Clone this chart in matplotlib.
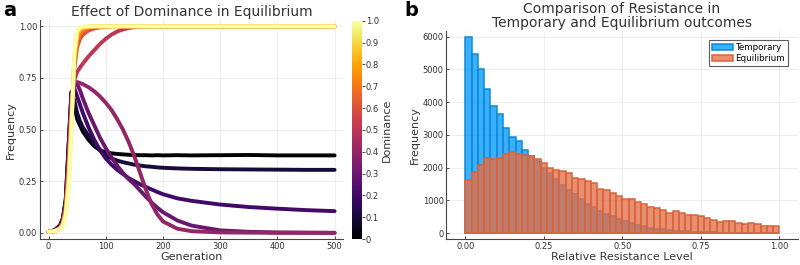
import numpy as np
import matplotlib
matplotlib.use("Agg")
import matplotlib.pyplot as plt
from matplotlib import cm, colors

# ---------------- Panel a data ----------------
generations = [0, 10, 20, 25, 30, 35, 40, 45, 50, 55, 60, 70, 80, 90, 100, 110, 120, 130,
               140, 150, 160, 170, 180, 190, 200, 225, 250, 300, 350, 400, 450, 500]
dominance = [0.0, 0.1, 0.2, 0.3, 0.4, 0.5, 0.6, 0.7, 0.8, 0.9, 1.0]

freq_d00 = [0.005, 0.012, 0.035, 0.07, 0.16, 0.42, 0.68, 0.62, 0.55, 0.52, 0.49, 0.45, 0.42, 0.40, 0.39, 0.385,
            0.382, 0.38, 0.378, 0.377, 0.376, 0.376, 0.375, 0.376, 0.375, 0.376, 0.375, 0.376, 0.377, 0.375, 0.375, 0.375]
freq_d01 = [0.005, 0.012, 0.035, 0.07, 0.16, 0.42, 0.68, 0.64, 0.58, 0.54, 0.51, 0.47, 0.43, 0.40, 0.375, 0.36,
            0.35, 0.342, 0.336, 0.33, 0.326, 0.322, 0.32, 0.317, 0.315, 0.312, 0.31, 0.308, 0.307, 0.306, 0.305, 0.305]
freq_d02 = [0.005, 0.011, 0.032, 0.065, 0.15, 0.40, 0.68, 0.70, 0.66, 0.62, 0.58, 0.51, 0.45, 0.40, 0.36, 0.33,
            0.305, 0.285, 0.265, 0.25, 0.235, 0.222, 0.21, 0.198, 0.187, 0.167, 0.155, 0.137, 0.125, 0.117, 0.11, 0.105]
freq_d03 = [0.005, 0.01, 0.028, 0.06, 0.14, 0.37, 0.66, 0.72, 0.72, 0.69, 0.65, 0.58, 0.52, 0.46, 0.41, 0.365,
            0.325, 0.29, 0.26, 0.235, 0.205, 0.175, 0.147, 0.122, 0.10, 0.06, 0.035, 0.012, 0.005, 0.002, 0.001, 0.0]
freq_d04 = [0.005, 0.01, 0.026, 0.055, 0.13, 0.34, 0.62, 0.73, 0.73, 0.725, 0.72, 0.705, 0.685, 0.66, 0.63, 0.595,
            0.55, 0.50, 0.44, 0.37, 0.29, 0.21, 0.14, 0.09, 0.055, 0.02, 0.008, 0.002, 0.001, 0.0, 0.0, 0.0]
freq_d05 = [0.005, 0.01, 0.025, 0.05, 0.12, 0.32, 0.60, 0.74, 0.78, 0.80, 0.82, 0.855, 0.885, 0.915, 0.94, 0.96,
            0.975, 0.985, 0.992, 0.996, 0.998, 1.0, 1.0, 1.0, 1.0, 1.0, 1.0, 1.0, 1.0, 1.0, 1.0, 1.0]
freq_d06 = [0.005, 0.008, 0.022, 0.045, 0.11, 0.30, 0.58, 0.80, 0.90, 0.94, 0.96, 0.98, 0.99, 0.995, 0.998, 1.0,
            1.0, 1.0, 1.0, 1.0, 1.0, 1.0, 1.0, 1.0, 1.0, 1.0, 1.0, 1.0, 1.0, 1.0, 1.0, 1.0]
freq_d07 = [0.005, 0.008, 0.021, 0.043, 0.105, 0.28, 0.56, 0.82, 0.93, 0.965, 0.98, 0.993, 0.998, 1.0, 1.0, 1.0,
            1.0, 1.0, 1.0, 1.0, 1.0, 1.0, 1.0, 1.0, 1.0, 1.0, 1.0, 1.0, 1.0, 1.0, 1.0, 1.0]
freq_d08 = [0.005, 0.008, 0.02, 0.04, 0.10, 0.26, 0.54, 0.84, 0.95, 0.98, 0.99, 0.997, 1.0, 1.0, 1.0, 1.0,
            1.0, 1.0, 1.0, 1.0, 1.0, 1.0, 1.0, 1.0, 1.0, 1.0, 1.0, 1.0, 1.0, 1.0, 1.0, 1.0]
freq_d09 = [0.005, 0.008, 0.019, 0.038, 0.09, 0.24, 0.52, 0.86, 0.97, 0.99, 0.995, 1.0, 1.0, 1.0, 1.0, 1.0,
            1.0, 1.0, 1.0, 1.0, 1.0, 1.0, 1.0, 1.0, 1.0, 1.0, 1.0, 1.0, 1.0, 1.0, 1.0, 1.0]
freq_d10 = [0.005, 0.008, 0.018, 0.035, 0.085, 0.22, 0.50, 0.87, 0.98, 0.995, 1.0, 1.0, 1.0, 1.0, 1.0, 1.0,
            1.0, 1.0, 1.0, 1.0, 1.0, 1.0, 1.0, 1.0, 1.0, 1.0, 1.0, 1.0, 1.0, 1.0, 1.0, 1.0]
freq_series = [freq_d00, freq_d01, freq_d02, freq_d03, freq_d04, freq_d05,
               freq_d06, freq_d07, freq_d08, freq_d09, freq_d10]

# ---------------- Panel b data ----------------
bin_edges = [round(i * 0.02, 2) for i in range(51)]
temporary_counts = [6000, 5470, 5000, 4390, 3880, 3630, 3200, 2940, 2810, 2540,
                    2350, 2200, 2000, 1850, 1650, 1480, 1330, 1180, 1050, 900,
                    800, 680, 590, 510, 430, 370, 300, 250, 210, 170,
                    140, 115, 95, 80, 65, 50, 40, 30, 25, 20,
                    15, 12, 10, 8, 6, 4, 3, 2, 1, 1]
equilibrium_counts = [1630, 1880, 2085, 2300, 2260, 2300, 2410, 2470, 2420, 2390,
                      2360, 2260, 2140, 1980, 1930, 1910, 1850, 1680, 1660, 1600,
                      1530, 1350, 1320, 1220, 1140, 1050, 1040, 940, 900, 790,
                      760, 710, 610, 690, 610, 540, 560, 530, 460, 390,
                      330, 380, 360, 310, 290, 300, 290, 230, 230, 230]

# ---------------- Figure ----------------
plt.rcParams['font.family'] = ['DejaVu Sans']
text_col = '#333333'
fig = plt.figure(figsize=(8, 2.65), dpi=100)

ax1 = fig.add_axes([0.05, 0.098, 0.379, 0.826])
cax = fig.add_axes([0.4396, 0.098, 0.0125, 0.824])
ax2 = fig.add_axes([0.558, 0.098, 0.439, 0.786])

cmap = plt.get_cmap('inferno')
norm = colors.Normalize(0, 1)
for d, fr in zip(dominance, freq_series):
    ax1.plot(generations, fr, color=cmap(norm(d)), lw=2.8, solid_capstyle='round',
             solid_joinstyle='round', zorder=3)

ax1.set_xlim(-15, 515)
ax1.set_ylim(-0.03, 1.03)
ax1.set_xticks([0, 100, 200, 300, 400, 500])
ax1.set_yticks([0, 0.25, 0.5, 0.75, 1.0])
ax1.set_yticklabels(['0.00', '0.25', '0.50', '0.75', '1.00'])
ax1.set_xlabel('Generation', fontsize=8, color=text_col, labelpad=1)
ax1.set_ylabel('Frequency', fontsize=8, color=text_col, labelpad=2)
ax1.set_title('Effect of Dominance in Equilibrium', fontsize=10, color=text_col, pad=3)

sm = cm.ScalarMappable(norm=norm, cmap=cmap)
cb = fig.colorbar(sm, cax=cax)
cb.set_ticks([i / 10 for i in range(11)])
cb.set_ticklabels(['0', '0.1', '0.2', '0.3', '0.4', '0.5', '0.6', '0.7', '0.8', '0.9', '1.0'])
cb.ax.tick_params(labelsize=6, colors=text_col, length=2, width=0.6, pad=1)
cb.outline.set_visible(False)
cb.set_label('Dominance', fontsize=8, color=text_col, labelpad=2)

# histogram
blue = '#009AFA'
orange = '#E36F47'
left_edges = bin_edges[:-1]
widths = [bin_edges[i + 1] - bin_edges[i] for i in range(50)]
ax2.bar(left_edges, temporary_counts, width=widths, align='edge',
        facecolor=colors.to_rgba(blue, 0.78), edgecolor='#1488d8', linewidth=1.1,
        label='Temporary', zorder=2)
ax2.bar(left_edges, equilibrium_counts, width=widths, align='edge',
        facecolor=colors.to_rgba(orange, 0.78), edgecolor='#d8643c', linewidth=1.1,
        label='Equilibrium', zorder=3)
ax2.set_xlim(-0.06, 1.058)
ax2.set_ylim(-180, 6180)
ax2.set_xticks([0, 0.25, 0.5, 0.75, 1.0])
ax2.set_xticklabels(['0.00', '0.25', '0.50', '0.75', '1.00'])
ax2.set_yticks([0, 1000, 2000, 3000, 4000, 5000, 6000])
ax2.set_xlabel('Relative Resistance Level', fontsize=8, color=text_col, labelpad=1)
ax2.set_ylabel('Frequency', fontsize=8, color=text_col, labelpad=2)
ax2.set_title('Comparison of Resistance in\nTemporary and Equilibrium outcomes',
              fontsize=10, color=text_col, pad=3, linespacing=1.0)
leg = ax2.legend(loc='upper right', fontsize=6.3, frameon=True, fancybox=False,
                 borderpad=0.35, handlelength=2.4, handletextpad=0.3, labelspacing=0.15,
                 borderaxespad=1.1)
leg.get_frame().set_edgecolor('#333333')
leg.get_frame().set_linewidth(0.8)

for ax in (ax1, ax2):
    for s in ('top', 'right'):
        ax.spines[s].set_visible(False)
    for s in ('left', 'bottom'):
        ax.spines[s].set_color('#444444')
        ax.spines[s].set_linewidth(0.8)
    ax.tick_params(labelsize=6, colors=text_col, direction='in', length=2.5, width=0.6, pad=2)
    ax.grid(True, color='#e6e6e6', linewidth=0.5, zorder=0)
    ax.set_axisbelow(True)

fig.text(0.004, 0.995, 'a', fontsize=14, fontweight='bold', va='top', ha='left')
fig.text(0.506, 0.995, 'b', fontsize=14, fontweight='bold', va='top', ha='left')

fig.savefig('out.png', dpi=100)
